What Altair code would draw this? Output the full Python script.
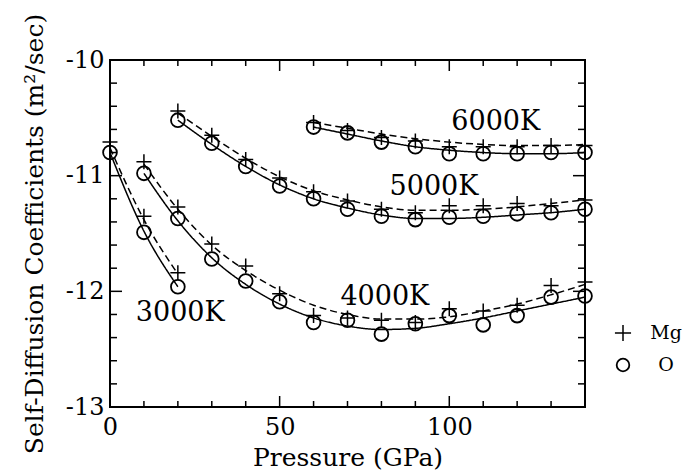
import altair as alt
import pandas as pd

# Measured self-diffusion coefficients (log10 D, m^2/sec) against pressure (GPa)
p_3000 = [0, 10, 20]
mg_3000 = [-10.71, -11.35, -11.84]
o_3000 = [-10.80, -11.49, -11.96]
fit_mg_3000 = [-10.76, -11.38, -11.85]
fit_o_3000 = [-10.80, -11.48, -11.96]

p_4000 = [10, 20, 30, 40, 50, 60, 70, 80, 90, 100, 110, 120, 130, 140]
mg_4000 = [-10.88, -11.27, -11.59, -11.78, -12.02, -12.21, -12.23, -12.25, -12.27, -12.15, -12.17, -12.12, -11.95, -11.92]
o_4000 = [-10.98, -11.37, -11.72, -11.91, -12.09, -12.27, -12.25, -12.37, -12.28, -12.21, -12.29, -12.21, -12.05, -12.04]
fit_mg_4000 = [-10.90, -11.29, -11.60, -11.82, -11.99, -12.12, -12.20, -12.24, -12.24, -12.22, -12.17, -12.11, -12.03, -11.94]
fit_o_4000 = [-10.98, -11.39, -11.71, -11.94, -12.11, -12.23, -12.30, -12.33, -12.32, -12.28, -12.23, -12.17, -12.11, -12.05]

p_5000 = [20, 30, 40, 50, 60, 70, 80, 90, 100, 110, 120, 130, 140]
mg_5000 = [-10.44, -10.65, -10.86, -11.02, -11.14, -11.22, -11.29, -11.32, -11.26, -11.26, -11.24, -11.26, -11.21]
o_5000 = [-10.52, -10.72, -10.92, -11.09, -11.20, -11.29, -11.35, -11.38, -11.36, -11.35, -11.33, -11.32, -11.29]
fit_mg_5000 = [-10.46, -10.66, -10.85, -11.01, -11.13, -11.21, -11.27, -11.30, -11.30, -11.29, -11.27, -11.24, -11.21]
fit_o_5000 = [-10.52, -10.73, -10.92, -11.08, -11.20, -11.28, -11.34, -11.37, -11.37, -11.36, -11.34, -11.32, -11.29]

p_6000 = [60, 70, 80, 90, 100, 110, 120, 130, 140]
mg_6000 = [-10.54, -10.61, -10.67, -10.70, -10.75, -10.75, -10.75, -10.74, -10.74]
o_6000 = [-10.58, -10.63, -10.71, -10.75, -10.81, -10.81, -10.81, -10.80, -10.80]
fit_mg_6000 = [-10.54, -10.59, -10.64, -10.68, -10.71, -10.73, -10.74, -10.74, -10.73]
fit_o_6000 = [-10.58, -10.64, -10.70, -10.75, -10.78, -10.80, -10.81, -10.81, -10.80]

# Isotherm labels and where they sit (pressure, log D)
temp_labels = ["3000K", "4000K", "5000K", "6000K"]
label_p = [20.7, 81.0, 95.5, 113.7]
label_v = [-12.19, -12.05, -11.10, -10.54]

# Axis ticks
x_labels = [0, 50, 100]
y_labels = [-13, -12, -11, -10]
x_minor = [10, 20, 30, 40, 60, 70, 80, 90, 110, 120, 130]
x_major = [50, 100]
y_minor = [-12.8, -12.6, -12.4, -12.2, -11.8, -11.6, -11.4, -11.2, -10.8, -10.6, -10.4, -10.2]
y_major = [-12, -11]

W, H = 475, 347
FONT = "DejaVu Serif"
PLUS = "M-1,0L1,0M0,-1L0,1"

sets = [
    ("3000K", p_3000, mg_3000, o_3000, fit_mg_3000, fit_o_3000),
    ("4000K", p_4000, mg_4000, o_4000, fit_mg_4000, fit_o_4000),
    ("5000K", p_5000, mg_5000, o_5000, fit_mg_5000, fit_o_5000),
    ("6000K", p_6000, mg_6000, o_6000, fit_mg_6000, fit_o_6000),
]
pts, fits = [], []
for t, ps, mg, o, fmg, fo in sets:
    for p, a, b, fa, fb in zip(ps, mg, o, fmg, fo):
        pts.append({"T": t, "P": p, "species": "Mg", "D": a})
        pts.append({"T": t, "P": p, "species": "O", "D": b})
        fits.append({"T": t, "P": p, "species": "Mg", "D": fa})
        fits.append({"T": t, "P": p, "species": "O", "D": fb})
pts = pd.DataFrame(pts)
fits = pd.DataFrame(fits)

xs = alt.Scale(domain=[0, 140], nice=False, zero=False)
ys = alt.Scale(domain=[-13, -10], nice=False, zero=False)

x_enc = alt.X("P:Q", scale=xs, axis=alt.Axis(
    values=x_labels, ticks=False, domain=False, grid=False, format="d",
    labelFlush=False, labelFont=FONT, labelFontSize=24, labelColor="black",
    labelPadding=8, title="Pressure (GPa)", titleFont=FONT, titleFontSize=25,
    titleFontWeight="normal", titleColor="black", titlePadding=6))
y_enc = alt.Y("D:Q", scale=ys, axis=alt.Axis(
    values=y_labels, ticks=False, domain=False, grid=False,
    labelExpr="'-' + format(abs(datum.value), 'd')", labelFlush=False,
    labelFont=FONT, labelFontSize=24, labelColor="black", labelPadding=6,
    title="Self-Diffusion Coefficients (m²/sec)", titleFont=FONT,
    titleFontSize=25, titleFontWeight="normal", titleColor="black",
    titlePadding=18))

lines = alt.Chart(fits).mark_line(
    color="black", strokeWidth=1.5, interpolate="monotone"
).encode(
    x=x_enc, y=y_enc, detail="T:N",
    strokeDash=alt.StrokeDash("species:N", scale=alt.Scale(
        domain=["Mg", "O"], range=[[7, 4], [1, 0]]), legend=None),
)

mg_pts = alt.Chart(pts).transform_filter(alt.datum.species == "Mg").mark_point(
    shape=PLUS, size=225, color="black", strokeWidth=1.5, filled=False, opacity=1
).encode(x="P:Q", y="D:Q")

o_pts = alt.Chart(pts).transform_filter(alt.datum.species == "O").mark_point(
    shape="circle", size=190, color="black", strokeWidth=1.8, filled=False, opacity=1
).encode(x="P:Q", y="D:Q")

lab_df = pd.DataFrame({"P": label_p, "D": label_v, "text": temp_labels})
labels = alt.Chart(lab_df).mark_text(
    font=FONT, fontSize=27, color="black", align="center", baseline="middle"
).encode(x="P:Q", y="D:Q", text="text:N")

# Inward tick marks on all four sides of the frame
def xticks(vals, length):
    df = pd.DataFrame({"P": vals})
    bottom = alt.Chart(df).mark_rule(color="black", strokeWidth=1.5).encode(
        x="P:Q", y=alt.value(H), y2=alt.value(H - length))
    top = alt.Chart(df).mark_rule(color="black", strokeWidth=1.5).encode(
        x="P:Q", y=alt.value(0), y2=alt.value(length))
    return bottom + top

def yticks(vals, length):
    df = pd.DataFrame({"D": vals})
    left = alt.Chart(df).mark_rule(color="black", strokeWidth=1.5).encode(
        y="D:Q", x=alt.value(0), x2=alt.value(length))
    right = alt.Chart(df).mark_rule(color="black", strokeWidth=1.5).encode(
        y="D:Q", x=alt.value(W), x2=alt.value(W - length))
    return left + right

ticks = xticks(x_minor, 6) + xticks(x_major, 11) + yticks(y_minor, 7) + yticks(y_major, 12)

# Species key to the right of the frame
key = pd.DataFrame({"name": ["Mg", "O"], "yy": [273, 305]})
key_plus = alt.Chart(key).transform_filter(alt.datum.name == "Mg").mark_point(
    shape=PLUS, size=260, color="black", strokeWidth=1.5, filled=False, opacity=1
).encode(x=alt.value(513), y=alt.Y("yy:Q", scale=None))
key_circle = alt.Chart(key).transform_filter(alt.datum.name == "O").mark_point(
    shape="circle", size=160, color="black", strokeWidth=1.8, filled=False, opacity=1
).encode(x=alt.value(513), y=alt.Y("yy:Q", scale=None))
key_text = alt.Chart(key).mark_text(
    font=FONT, fontSize=19, color="black", align="center", baseline="middle"
).encode(x=alt.value(556), y=alt.Y("yy:Q", scale=None), text="name:N")

chart = alt.layer(
    lines, mg_pts, o_pts, labels, ticks, key_plus, key_circle, key_text
).properties(
    width=W, height=H,
    padding={"left": 110, "top": 60, "right": 101, "bottom": 66},
    autosize="none", background="white",
).configure_view(stroke="black", strokeWidth=2)

chart.save("out.html", embed_options={"renderer": "svg", "actions": False})
